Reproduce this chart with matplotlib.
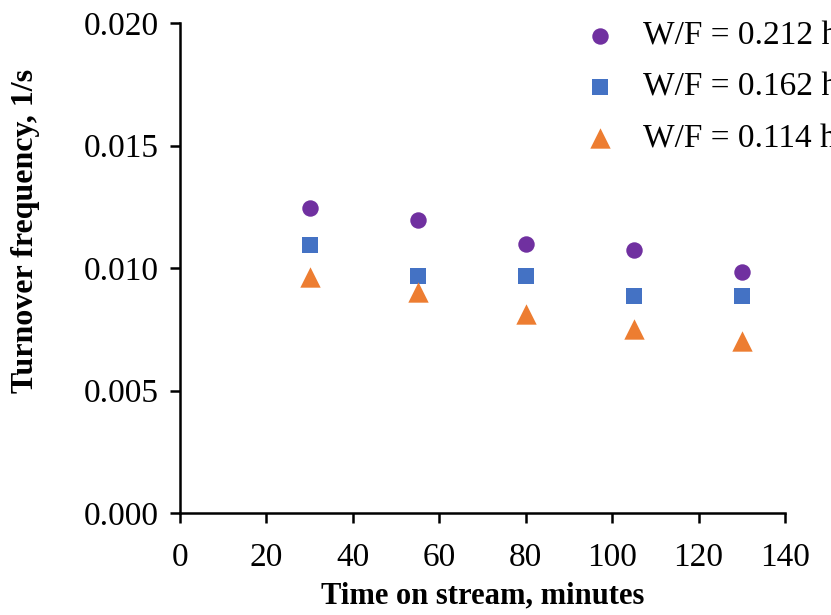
import matplotlib.pyplot as plt

# --- Data ---
time_min = [30, 55, 80, 105, 130]
tof_0212 = [0.01243, 0.01196, 0.01099, 0.01072, 0.00982]
tof_0162 = [0.01093, 0.00967, 0.00967, 0.00886, 0.00886]
tof_0114 = [0.00962, 0.00904, 0.00814, 0.00752, 0.00703]
series_labels = ["W/F = 0.212 h", "W/F = 0.162 h", "W/F = 0.114 h"]
x_ticks = [0, 20, 40, 60, 80, 100, 120, 140]
y_ticks = [0.000, 0.005, 0.010, 0.015, 0.020]

plt.rcParams['font.family'] = ['Liberation Serif', 'DejaVu Serif']

fig = plt.figure(figsize=(8.31, 6.15), dpi=100)
W, H = 831, 615
ax = fig.add_axes([180 / W, (H - 513) / H, (785 - 180) / W, (513 - 23) / H])

ax.scatter(time_min, tof_0212, marker='o', s=140, color='#7030A0', label=series_labels[0], linewidths=0)
ax.scatter(time_min, tof_0162, marker='s', s=140, color='#4472C4', label=series_labels[1], linewidths=0)
ax.scatter(time_min, tof_0114, marker='^', s=215, color='#ED7D31', label=series_labels[2], linewidths=0)

ax.set_xlim(0, 140)
ax.set_ylim(0, 0.020)
ax.set_xticks(x_ticks)
ax.set_yticks(y_ticks)
ax.set_yticklabels([f"{v:.3f}" for v in y_ticks])

for side in ['top', 'right']:
    ax.spines[side].set_visible(False)
for side in ['left', 'bottom']:
    ax.spines[side].set_linewidth(1.8)

ax.tick_params(axis='both', direction='out', length=7, width=1.8, labelsize=24, colors='black')
ax.tick_params(axis='x', pad=14)
ax.tick_params(axis='y', pad=8)

ax.set_xlabel('Time on stream, minutes', fontsize=22, fontweight='bold')
ax.xaxis.set_label_coords(0.5, -(596 - 513) / 490, transform=ax.transAxes)
ax.set_ylabel('Turnover frequency, 1/s', fontsize=23, fontweight='bold')
ax.yaxis.set_label_coords((25 - 180) / 605, (513 - 231) / 490)
ax.xaxis.label.set_va('center')
ax.yaxis.label.set_va('center')

# legend runs off the right edge, as in the original
ax.legend(loc='upper left', bbox_to_anchor=(570 / W, 1 - 8 / H), bbox_transform=fig.transFigure,
          frameon=False, fontsize=24, handletextpad=0.8, labelspacing=0.62,
          handlelength=1.0, borderaxespad=0, scatterpoints=1)

fig.savefig('out.png', dpi=100)
